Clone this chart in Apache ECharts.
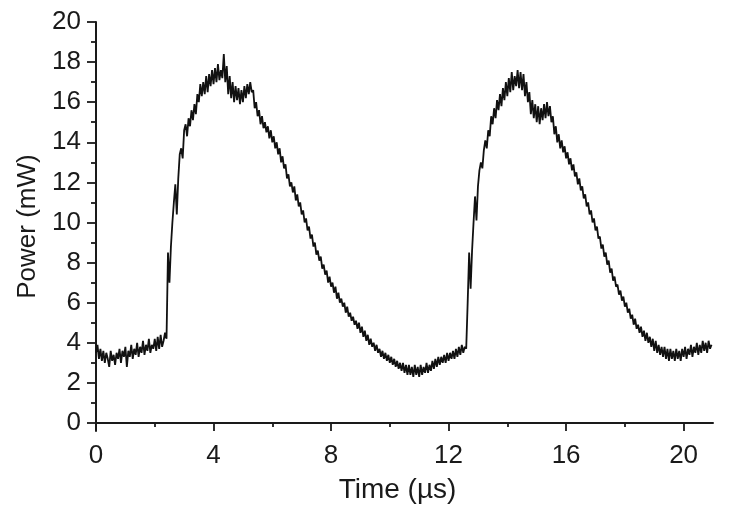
<!DOCTYPE html>
<html>
<head>
<meta charset="utf-8">
<title>Power vs Time</title>
<script src="https://cdn.jsdelivr.net/npm/echarts@6/dist/echarts.min.js"></script>
<style>
  html, body { margin: 0; padding: 0; background: #fff; }
  #chart { width: 729px; height: 519px; }
</style>
</head>
<body>
<div id="chart"></div>
<script>
// trace sampled every 0.05 us, one row per microsecond
const sampleStepUs = 0.05
const powerMw = [
  3.5, 3.9, 3.2, 3.7, 3.1, 3.6, 3.0, 3.5, 3.2, 2.8, 3.6, 3.1, 3.4, 2.9, 3.5, 3.2, 3.7, 3.0, 3.6, 3.3,
  3.8, 2.8, 3.6, 3.3, 3.9, 3.2, 3.7, 3.4, 4.0, 3.3, 3.8, 3.5, 4.1, 3.4, 3.9, 3.6, 4.2, 3.5, 3.9, 3.7,
  4.2, 3.6, 4.3, 3.7, 4.4, 3.8, 4.1, 4.5, 4.2, 8.5, 7.0, 8.8, 10.0, 11.0, 11.9, 10.4, 12.2, 13.4, 13.7, 13.2,
  14.6, 14.9, 14.3, 15.2, 14.8, 15.6, 15.1, 15.9, 15.4, 16.4, 16.0, 16.9, 16.3, 17.0, 16.4, 17.3, 16.5, 17.4, 16.8, 17.6,
  16.9, 17.7, 17.0, 17.9, 17.1, 17.6, 17.2, 18.4, 17.0, 17.8, 16.4, 17.3, 16.2, 17.0, 16.0, 16.8, 16.1, 16.7, 15.9, 16.6,
  16.0, 16.8, 16.2, 16.9, 16.4, 17.0, 16.5, 16.6, 15.7, 16.0, 15.3, 15.6, 14.9, 15.3, 14.7, 15.0, 14.5, 14.8, 14.2, 14.6,
  14.0, 14.3, 13.7, 14.0, 13.4, 13.7, 13.0, 13.3, 12.7, 12.9, 12.2, 12.4, 11.8, 12.0, 11.5, 11.8, 11.1, 11.4, 10.8, 11.0,
  10.4, 10.6, 10.0, 10.2, 9.6, 9.8, 9.2, 9.4, 8.8, 9.0, 8.4, 8.6, 8.1, 8.3, 7.7, 7.9, 7.4, 7.6, 7.0, 7.3,
  6.8, 7.0, 6.5, 6.8, 6.2, 6.5, 6.0, 6.2, 5.8, 6.0, 5.5, 5.8, 5.3, 5.5, 5.1, 5.3, 4.9, 5.1, 4.7, 5.0,
  4.5, 4.8, 4.3, 4.6, 4.1, 4.4, 3.9, 4.2, 3.8, 4.0, 3.6, 3.9, 3.5, 3.7, 3.3, 3.6, 3.2, 3.5, 3.1, 3.4,
  3.0, 3.3, 2.9, 3.2, 2.8, 3.1, 2.7, 3.0, 2.6, 3.0, 2.5, 2.9, 2.4, 2.9, 2.4, 2.8, 2.3, 2.9, 2.4, 2.8,
  2.3, 2.9, 2.4, 2.8, 2.5, 3.0, 2.5, 2.9, 2.6, 3.1, 2.7, 3.2, 2.8, 3.3, 2.9, 3.3, 3.0, 3.4, 3.0, 3.5,
  3.1, 3.5, 3.2, 3.6, 3.2, 3.7, 3.3, 3.8, 3.4, 3.9, 3.5, 3.8, 3.7, 6.0, 8.5, 6.7, 8.6, 10.0, 11.3, 10.1,
  11.8, 12.6, 13.0, 12.7, 13.6, 14.1, 13.7, 14.6, 14.3, 15.3, 14.9, 15.7, 15.2, 16.1, 15.6, 16.4, 15.8, 16.7, 16.1, 17.0,
  16.3, 17.2, 16.5, 17.5, 16.6, 17.3, 16.8, 17.6, 16.7, 17.5, 16.6, 17.4, 16.3, 17.0, 16.0, 16.5, 15.4, 16.1, 15.2, 15.9,
  15.0, 15.8, 14.9, 15.7, 15.1, 15.9, 15.2, 16.0, 15.3, 15.8, 15.0, 15.3, 14.4, 14.8, 14.0, 14.4, 13.7, 14.1, 13.5, 13.8,
  13.2, 13.5, 12.9, 13.2, 12.6, 12.9, 12.3, 12.5, 11.9, 12.2, 11.6, 11.8, 11.2, 11.4, 10.8, 11.0, 10.4, 10.6, 10.0, 10.2,
  9.6, 9.8, 9.2, 9.3, 8.7, 8.9, 8.3, 8.5, 7.9, 8.1, 7.5, 7.7, 7.1, 7.3, 6.8, 6.9, 6.4, 6.6, 6.1, 6.3,
  5.8, 6.0, 5.5, 5.7, 5.2, 5.4, 4.9, 5.2, 4.7, 4.9, 4.5, 4.8, 4.3, 4.6, 4.1, 4.5, 4.0, 4.3, 3.8, 4.2,
  3.6, 4.1, 3.5, 3.9, 3.4, 3.8, 3.3, 3.8, 3.2, 3.7, 3.1, 3.7, 3.2, 3.6, 3.1, 3.7, 3.2, 3.6, 3.1, 3.7,
  3.3, 3.8, 3.2, 3.7, 3.4, 3.9, 3.3, 3.8, 3.5, 4.0, 3.4, 3.9, 3.5, 4.1, 3.6, 4.0, 3.5, 4.1, 3.7, 3.9
]

const xTicks = [0, 4, 8, 12, 16, 20]
const xMinorTicks = [2, 6, 10, 14, 18]
const yTicks = [0, 2, 4, 6, 8, 10, 12, 14, 16, 18, 20]
const yMinorTicks = [1, 3, 5, 7, 9, 11, 13, 15, 17, 19]

const font = 'Liberation Sans, Arial, sans-serif'
const ink = '#1a1a1a'

const trace = powerMw.map((v, i) => [+(i * sampleStepUs).toFixed(2), v])

function xAxisDef(ticks, len, main) {
  return {
    type: 'value', position: 'bottom', min: 0, max: 21,
    axisLine: { show: main, lineStyle: { color: ink, width: 2 } },
    axisTick: { show: true, inside: false, length: len, customValues: ticks, lineStyle: { color: ink, width: 1.8 } },
    axisLabel: main
      ? { show: true, customValues: ticks, margin: 12, fontSize: 26, fontFamily: font, color: ink }
      : { show: false },
    splitLine: { show: false },
    name: main ? 'Time (\u00b5s)' : '',
    nameLocation: 'middle',
    nameGap: 45,
    nameTextStyle: { fontSize: 28, fontFamily: font, color: ink, padding: [0, 14, 0, 0] }
  }
}

function yAxisDef(ticks, len, main) {
  return {
    type: 'value', position: 'left', min: -0.4, max: 20,
    axisLine: { show: main, lineStyle: { color: ink, width: 2 } },
    axisTick: { show: true, inside: false, length: len, customValues: ticks, lineStyle: { color: ink, width: 1.8 } },
    axisLabel: main
      ? { show: true, customValues: ticks, margin: 15, fontSize: 26, fontFamily: font, color: ink }
      : { show: false },
    splitLine: { show: false },
    name: main ? 'Power (mW)' : '',
    nameLocation: 'middle',
    nameGap: 54,
    nameTextStyle: { fontSize: 26, fontFamily: font, color: ink }
  }
}

const chart = echarts.init(document.getElementById('chart'))
chart.setOption({
  animation: false,
  backgroundColor: '#fff',
  grid: { left: 96, right: 16, top: 22, bottom: 88 },
  xAxis: [xAxisDef(xTicks, 8, true), xAxisDef(xMinorTicks, 4, false)],
  yAxis: [yAxisDef(yTicks, 9, true), yAxisDef(yMinorTicks, 5, false)],
  series: [{
    type: 'line',
    data: trace,
    showSymbol: false,
    sampling: 'none',
    lineStyle: { color: '#111', width: 1.8 }
  }]
})
</script>
</body>
</html>
